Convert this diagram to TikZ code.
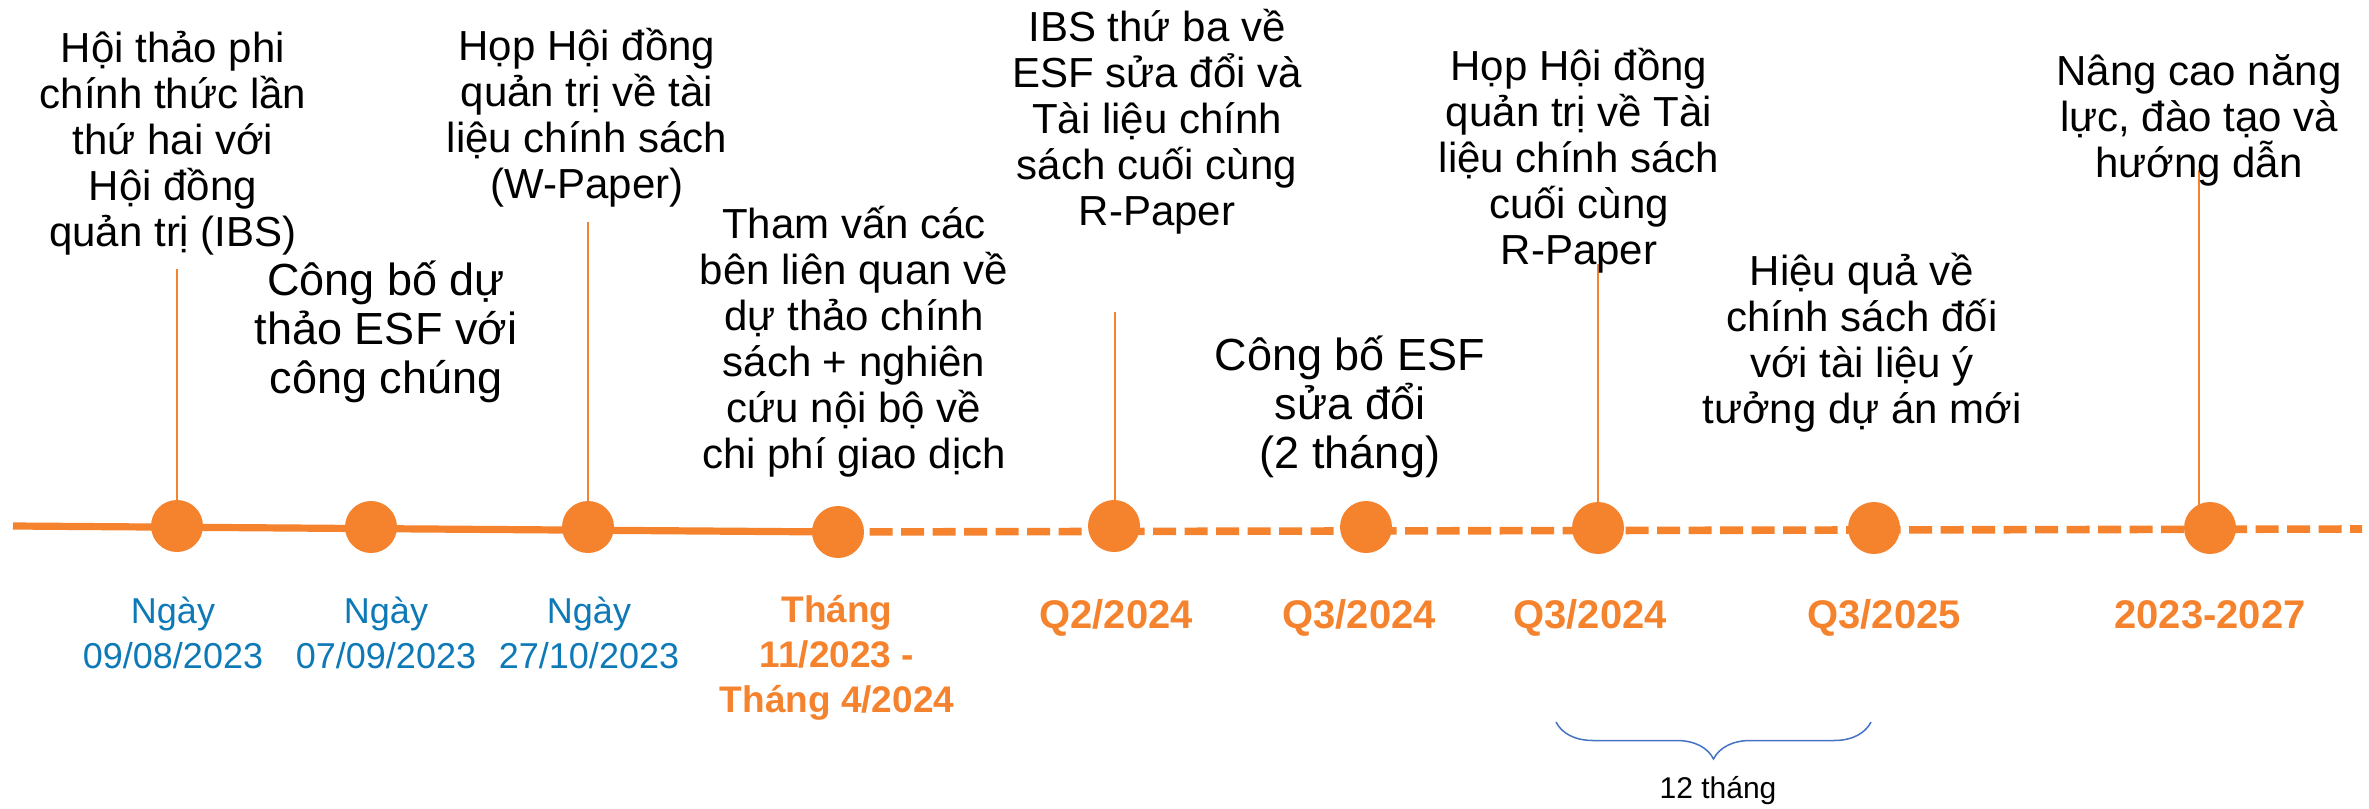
\documentclass[tikz,border=0pt]{standalone}
\usepackage{fontspec}
\setmainfont{Liberation Sans}
\usepackage{xcolor}
\usepackage{tikz}
\usetikzlibrary{decorations.pathreplacing, backgrounds}

\definecolor{tlorange}{RGB}{245,130,45}
\definecolor{dateblue}{RGB}{14,121,183}
\definecolor{braceblue}{RGB}{68,114,196}

\begin{document}
\begin{tikzpicture}[
    x=0.5pt, y=-0.5pt,
    event/.style={anchor=base, inner sep=0pt, align=center, font=\fontsize{21pt}{23pt}\selectfont},
    bigevent/.style={event, font=\fontsize{22.5pt}{24.5pt}\selectfont},
    datelbl/.style={anchor=base, inner sep=0pt, align=center, text=dateblue, font=\fontsize{18pt}{22.5pt}\selectfont},
    planlbl/.style={anchor=base, inner sep=0pt, align=center, text=tlorange, font=\bfseries\fontsize{20pt}{22.5pt}\selectfont},
    tldot/.style={circle, fill=tlorange, minimum size=26pt, inner sep=0pt},
    stemline/.style={draw=tlorange, line width=0.75pt},
]
\useasboundingbox (0,0) rectangle (2369,808);

\node[event] (e1) at (173,246) {Hội thảo phi\\chính thức lần\\thứ hai với\\Hội đồng\\quản trị (IBS)};
\node[bigevent] (e2) at (386,393) {Công bố dự\\thảo ESF với\\công chúng};
\node[event] (e3) at (587,198) {Họp Hội đồng\\quản trị về tài\\liệu chính sách\\(W-Paper)};
\node[event] (e4) at (854,468) {Tham vấn các\\bên liên quan về\\dự thảo chính\\sách + nghiên\\cứu nội bộ về\\chi phí giao dịch};
\node[event] (e5) at (1157,225) {IBS thứ ba về\\ESF sửa đổi và\\Tài liệu chính\\sách cuối cùng\\R-Paper};
\node[bigevent] (e6) at (1350,468) {Công bố ESF\\sửa đổi\\(2 tháng)};
\node[event] (e7) at (1579,264) {Họp Hội đồng\\quản trị về Tài\\liệu chính sách\\cuối cùng\\R-Paper};
\node[event] (e8) at (1862,423) {Hiệu quả về\\chính sách đối\\với tài liệu ý\\tưởng dự án mới};
\node[event] (e9) at (2199,177) {Nâng cao năng\\lực, đào tạo và\\hướng dẫn};

\node[tldot] (d1) at (177,526) {};
\node[tldot] (d2) at (371,527) {};
\node[tldot] (d3) at (588,527) {};
\node[tldot] (d4) at (838,532) {};
\node[tldot] (d5) at (1114,526) {};
\node[tldot] (d6) at (1366,527) {};
\node[tldot] (d7) at (1598,528) {};
\node[tldot] (d8) at (1874,528) {};
\node[tldot] (d9) at (2210,528) {};

\coordinate (tlstart) at (13,526);
\coordinate (tlend) at (2362,529);
\coordinate (s1) at (177,269);
\coordinate (s3) at (588,222);
\coordinate (s5) at (1115,312);
\coordinate (s7) at (1598,264);
\coordinate (s9) at (2199,170);

\begin{scope}[on background layer]
\draw[tlorange, line width=3.6pt] (tlstart) -- (d4.center);
\draw[tlorange, line width=3.8pt, dash pattern=on 11.5pt off 4.25pt] (d4.center) -- (tlend);
\foreach \i in {1,3,5,7,9}
    \draw[stemline] (s\i) -- (s\i |- d\i);
\end{scope}

\node[datelbl] (t1) at (173,668) {Ngày\\09/08/2023};
\node[datelbl] (t2) at (386,668) {Ngày\\07/09/2023};
\node[datelbl] (t3) at (589,668) {Ngày\\27/10/2023};
\node[planlbl, font=\bfseries\fontsize{18.5pt}{22.5pt}\selectfont] (t4) at (837,712) {Tháng\\11/2023 -\\Tháng 4/2024};
\node[planlbl] (t5) at (1116,628) {Q2/2024};
\node[planlbl] (t6) at (1359,628) {Q3/2024};
\node[planlbl] (t7) at (1590,628) {Q3/2024};
\node[planlbl] (t8) at (1884,628) {Q3/2025};
\node[planlbl] (t9) at (2210,628) {2023-2027};

\coordinate (bl) at (1556,722);
\coordinate (br) at (1871,722);
\draw[braceblue, line width=0.75pt, decorate, decoration={brace, amplitude=18.5pt, mirror}] (bl) -- (br);
\node[anchor=base, inner sep=0pt, font=\fontsize{15pt}{15pt}\selectfont] (span) at (1718,798) {12 tháng};

\end{tikzpicture}
\end{document}
